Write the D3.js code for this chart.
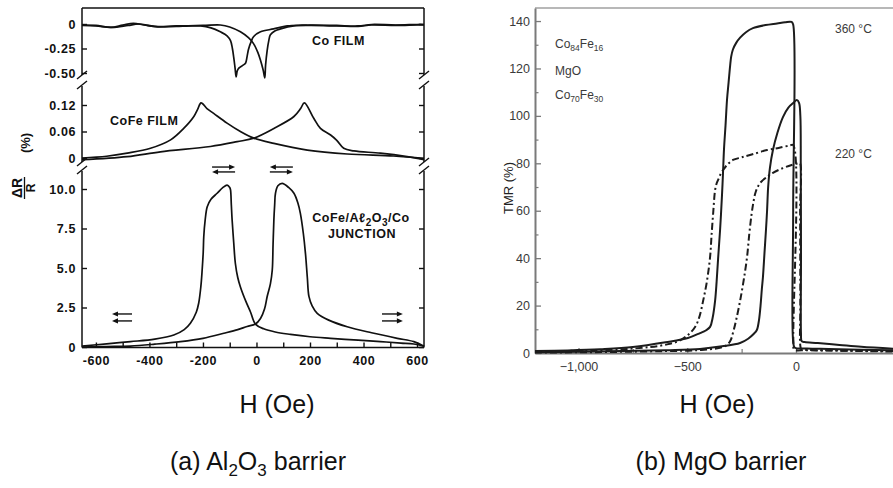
<!DOCTYPE html>
<html>
<head>
<meta charset="utf-8">
<script src="https://cdn.jsdelivr.net/npm/d3@7"></script>
<style>
  body { margin: 0; background: #fff; }
  svg { display: block; font-family: "Liberation Sans", Arial, sans-serif; }
</style>
</head>
<body>
<svg id="chart"></svg>
<script>
// ---------- panel (a) data : [H (Oe), dR/R (%)] ----------
const hTicksA = [-600, -400, -200, 0, 200, 400, 600];
const coTicks = [0, -0.25, -0.5];
const coTickLabels = ["0", "-0.25", "-0.50"];
const cofeTicks = [0, 0.06, 0.12];
const cofeTickLabels = ["0", "0.06", "0.12"];
const juncTicks = [0, 2.5, 5, 7.5, 10];
const juncTickLabels = ["0", "2.5", "5.0", "7.5", "10.0"];

const coFilmA = [[-652,-0.01],[-600,-0.015],[-545,-0.035],[-500,-0.012],[-460,0.007],[-420,-0.01],[-370,-0.03],[-300,-0.025],[-240,-0.02],[-209,-0.02],[-170,-0.04],[-135,-0.08],[-110,-0.12],[-97,-0.17],[-90,-0.25],[-85,-0.34],[-80,-0.45],[-76,-0.54],[-72,-0.48],[-66,-0.45],[-50,-0.42],[-41,-0.40],[-35,-0.33],[-30,-0.26],[-20,-0.18],[-11,-0.13],[15,-0.08],[64,-0.05],[115,-0.02],[170,-0.012],[210,-0.01],[300,-0.015],[380,-0.02],[430,-0.005],[520,-0.01],[600,-0.005],[626,-0.005]];
const coFilmB = [[-652,-0.015],[-600,-0.02],[-540,-0.035],[-480,-0.015],[-440,0.0],[-380,-0.025],[-300,-0.02],[-200,-0.015],[-135,-0.01],[-100,-0.03],[-60,-0.08],[-30,-0.14],[-11,-0.2],[5,-0.29],[15,-0.37],[25,-0.47],[31,-0.55],[34,-0.42],[40,-0.27],[46,-0.17],[52,-0.11],[70,-0.07],[90,-0.05],[140,-0.02],[200,-0.015],[300,-0.02],[380,-0.025],[430,-0.01],[520,-0.015],[600,-0.01],[626,-0.01]];

const cofeFilmA = [[-652,0.0],[-560,0.004],[-483,0.011],[-396,0.022],[-321,0.041],[-272,0.067],[-234,0.094],[-220,0.11],[-207,0.125],[-185,0.112],[-160,0.101],[-110,0.079],[-60,0.060],[-10,0.045],[65,0.033],[190,0.018],[339,0.009],[512,0.0045],[626,-0.001]];
const cofeFilmB = [[-652,-0.004],[-483,0.003],[-359,0.014],[-172,0.026],[-72,0.037],[-10,0.045],[65,0.067],[140,0.094],[165,0.112],[179,0.125],[214,0.090],[239,0.067],[277,0.052],[300,0.04],[326,0.022],[364,0.016],[463,0.011],[563,0.003],[626,-0.004]];

const junctionA = [[-652,0.06],[-560,0.2],[-471,0.34],[-380,0.5],[-309,0.76],[-270,1.1],[-247,1.5],[-225,2.2],[-216,2.77],[-208,3.8],[-203,4.87],[-199,6.0],[-197,6.98],[-192,8.0],[-184,8.88],[-170,9.35],[-147,9.73],[-125,10.1],[-110,10.25],[-100,10.1],[-97,9.94],[-94,9.0],[-91,8.04],[-85,6.6],[-79,5.3],[-70,4.4],[-60,3.8],[-40,2.9],[-22,2.2],[-4,1.45],[27,1.15],[70,0.95],[127,0.8],[200,0.65],[277,0.55],[380,0.43],[463,0.34],[540,0.25],[588,0.19],[626,0.05]];
const junctionB = [[-652,0.0],[-560,0.03],[-471,0.06],[-380,0.18],[-284,0.34],[-200,0.55],[-122,0.87],[-70,1.1],[-35,1.3],[-4,1.45],[15,1.8],[30,2.4],[40,3.2],[52,4.0],[59,4.87],[62,6.5],[65,8.04],[68,9.0],[71,9.73],[80,10.2],[96,10.36],[120,10.1],[140,9.73],[155,9.1],[164,8.46],[175,7.2],[183,5.93],[190,4.4],[196,3.2],[208,2.6],[227,2.13],[270,1.7],[339,1.28],[430,0.9],[526,0.55],[588,0.34],[626,0.05]];

// field-direction arrows: [from H, to H, level on junction scale]
const arrowsA = [[-166,-80,11.39],[-80,-166,11.08],[136,50,11.39],[50,136,11.08],
                 [-465,-540,2.09],[-465,-540,1.65],[469,547,2.09],[469,547,1.65]];

// ---------- panel (b) data : [H (Oe), TMR (%)] ----------
const tmrTicks = [0, 20, 40, 60, 80, 100, 120, 140];
const tmrMinorTicks = [10, 30, 50, 70, 90, 110, 130];
const hTicksB = [-1000, -500, 0];
const hMinorTicksB = [-750, -250];

const tmr360Major = [[446,1.2],[300,1.4],[150,1.7],[50,1.9],[-5,2.2],[-12,4],[-13,60],[-13,138.5],[-20,139.6],[-50,139.5],[-87,139],[-140,138.3],[-198,137],[-230,135.3],[-257,133],[-275,130.8],[-290,128],[-298,125],[-303,121],[-310,114],[-317,107],[-324,96],[-331,86],[-336,75],[-340,67],[-349,52],[-358,40],[-365,30],[-372,22],[-383,15],[-395,11],[-415,9.5],[-441,8.4],[-497,6.3],[-600,4.5],[-750,2.5],[-900,1.6],[-1050,1.1],[-1200,0.8]];
const tmr360Minor = [[-1200,0.3],[-1000,0.5],[-800,0.8],[-600,1.2],[-441,1.7],[-340,2.8],[-257,4.2],[-220,6],[-195,8],[-180,9.7],[-170,14],[-163,20],[-157,27],[-152,32],[-145,42],[-138,52],[-133,60],[-128,70],[-120,78],[-106,85.6],[-85,93],[-60,99.5],[-35,103.5],[-12,105.5],[4,106.7],[14,105.5],[20,100],[22,80],[23,40],[23,8],[26,5],[40,4.6],[100,4.2],[200,3.4],[300,2.6],[446,1.8]];
const tmr220Major = [[446,0.8],[200,1.0],[50,1.2],[-8,1.5],[-12,5],[-13,87.7],[-30,87.5],[-80,86.5],[-133,85.6],[-200,83.8],[-250,82.5],[-290,81.4],[-320,79],[-336,77],[-349,75],[-358,73],[-365,71.5],[-372,68.7],[-380,60],[-388,50],[-395,40.5],[-410,30],[-427,22],[-445,15],[-464,11],[-497,7.6],[-540,5],[-600,3.5],[-671,2.5],[-800,1.6],[-1000,1],[-1200,0.5]];
const tmr220Minor = [[-1200,0.2],[-1000,0.3],[-800,0.5],[-600,0.8],[-450,1.2],[-350,2.2],[-317,3.4],[-300,5.5],[-290,8.4],[-275,14],[-257,22],[-240,31],[-225,40.5],[-215,50],[-205,58],[-195,64],[-185,68],[-165,71.7],[-130,74.5],[-106,76],[-60,78],[-20,79.3],[10,80],[18,80],[19,60],[20,20],[20,3],[25,1.5],[60,1.3],[200,1.0],[446,0.6]];

const width = 893;
const height = 488;

const svg = d3.select('#chart')
    .attr('width', width)
    .attr('height', height);

svg.append("rect").attr("width", width).attr("height", height).attr("fill", "#fff");

function renderLeftPanel() {
    const ink = "#111";
    const x = d3.scaleLinear().domain([-652, 626]).range([82, 424]);
    const yCo = d3.scaleLinear().domain([0, -0.5]).range([24, 73]);
    const yCofe = d3.scaleLinear().domain([0, 0.12]).range([158, 105]);
    const yJunc = d3.scaleLinear().domain([0, 10]).range([347, 189]);

    const g = svg.append("g");

    // axis frame (broken between the three panels)
    const segments = [[8, 75], [86, 162], [171, 347.5]];
    [x.range()[0], x.range()[1]].forEach(function(px) {
        segments.forEach(function(s) {
            g.append("line")
                .attr("x1", px).attr("x2", px)
                .attr("y1", s[0]).attr("y2", s[1])
                .attr("stroke", ink).attr("stroke-width", 1.5);
        });
        // break marks
        [75, 85, 162, 170].forEach(function(by) {
            g.append("line")
                .attr("x1", px - 5).attr("y1", by + 4)
                .attr("x2", px + 5).attr("y2", by - 4)
                .attr("stroke", ink).attr("stroke-width", 1.4);
        });
    });
    g.append("line")
        .attr("x1", 82).attr("x2", 424).attr("y1", 8).attr("y2", 8)
        .attr("stroke", ink).attr("stroke-width", 1.5);
    g.append("line")
        .attr("x1", 82).attr("x2", 424).attr("y1", 347.5).attr("y2", 347.5)
        .attr("stroke", ink).attr("stroke-width", 1.5);

    function yAxes(scale, ticks, labels) {
        const left = g.append("g")
            .attr("transform", "translate(82,0)")
            .call(d3.axisLeft(scale).tickValues(ticks).tickSize(-5).tickSizeOuter(0).tickPadding(6)
                .tickFormat((d, i) => labels[i]));
        const right = g.append("g")
            .attr("transform", "translate(424,0)")
            .call(d3.axisRight(scale).tickValues(ticks).tickSize(-5).tickSizeOuter(0).tickFormat(""));
        [left, right].forEach(function(a) {
            a.select(".domain").remove();
            a.selectAll("line").attr("stroke", ink).attr("stroke-width", 1.4);
        });
        left.selectAll("text")
            .attr("fill", ink)
            .style("font-size", "12.5px")
            .style("font-weight", "bold")
            .style("letter-spacing", "0.6px");
    }
    yAxes(yCo, coTicks, coTickLabels);
    yAxes(yCofe, cofeTicks, cofeTickLabels);
    yAxes(yJunc, juncTicks, juncTickLabels);

    const xAxis = g.append("g")
        .attr("transform", "translate(0,347.5)")
        .call(d3.axisBottom(x).tickValues(d3.range(-600, 601, 100)).tickSize(-5).tickSizeOuter(0).tickPadding(9)
            .tickFormat(d => hTicksA.includes(d) ? String(d) : ""));
    xAxis.select(".domain").remove();
    xAxis.selectAll("line").attr("stroke", ink).attr("stroke-width", 1.4);
    xAxis.selectAll("text")
        .attr("fill", ink)
        .style("font-size", "12.5px")
        .style("font-weight", "bold")
        .style("letter-spacing", "0.6px");

    // curves
    function drawCurve(data, yScale) {
        const line = d3.line()
            .x(d => x(d[0]))
            .y(d => yScale(d[1]))
            .curve(d3.curveCatmullRom.alpha(0.5));
        g.append("path")
            .datum(data)
            .attr("d", line)
            .attr("fill", "none")
            .attr("stroke", ink)
            .attr("stroke-width", 1.7)
            .attr("stroke-linejoin", "round");
    }
    drawCurve(coFilmA, yCo);
    drawCurve(coFilmB, yCo);
    drawCurve(cofeFilmA, yCofe);
    drawCurve(cofeFilmB, yCofe);
    drawCurve(junctionA, yJunc);
    drawCurve(junctionB, yJunc);

    // arrows
    arrowsA.forEach(function(a) {
        const x0 = x(a[0]), x1 = x(a[1]), yy = yJunc(a[2]);
        const dir = x1 > x0 ? 1 : -1;
        g.append("line")
            .attr("x1", x0).attr("x2", x1 - dir * 3)
            .attr("y1", yy).attr("y2", yy)
            .attr("stroke", ink).attr("stroke-width", 1.4);
        g.append("path")
            .attr("d", "M" + x1 + "," + yy + "L" + (x1 - dir * 6) + "," + (yy - 2.6) + "L" + (x1 - dir * 6) + "," + (yy + 2.6) + "Z")
            .attr("fill", ink);
    });

    // annotations
    const lab = g.append("g")
        .attr("fill", ink)
        .style("font-size", "12.5px")
        .style("font-weight", "bold")
        .style("letter-spacing", "0.5px");
    lab.append("text").attr("x", 312).attr("y", 45).text("Co FILM");
    lab.append("text").attr("x", 110).attr("y", 125).text("CoFe FILM");
    const jt = lab.append("text").attr("x", 361).attr("y", 222).attr("text-anchor", "middle");
    jt.append("tspan").text("CoFe/Aℓ");
    jt.append("tspan").attr("dy", 4).style("font-size", "10px").text("2");
    jt.append("tspan").attr("dy", -4).text("O");
    jt.append("tspan").attr("dy", 4).style("font-size", "10px").text("3");
    jt.append("tspan").attr("dy", -4).text("/Co");
    lab.append("text").attr("x", 362).attr("y", 238).attr("text-anchor", "middle").text("JUNCTION");

    // y label: dR/R (%)
    svg.append("text")
        .attr("transform", "translate(17,188) rotate(-90)")
        .attr("dy", "0.35em")
        .attr("text-anchor", "middle")
        .style("font-size", "14px").style("font-weight", "bold")
        .attr("fill", ink)
        .text("ΔR");
    svg.append("line")
        .attr("x1", 24.5).attr("x2", 24.5).attr("y1", 177).attr("y2", 199)
        .attr("stroke", ink).attr("stroke-width", 1.3);
    svg.append("text")
        .attr("transform", "translate(31,188) rotate(-90)")
        .attr("dy", "0.35em")
        .attr("text-anchor", "middle")
        .style("font-size", "12px").style("font-weight", "bold")
        .attr("fill", ink)
        .text("R");
    svg.append("text")
        .attr("transform", "translate(25,143) rotate(-90)")
        .attr("dy", "0.35em")
        .attr("text-anchor", "middle")
        .style("font-size", "13px").style("font-weight", "bold")
        .attr("fill", ink)
        .text("(%)");
}

function renderRightPanel() {
    const axisColor = "#7a7a7a";
    const textColor = "#3a3a3a";
    const curveColor = "#1c1c1c";
    const x = d3.scaleLinear().domain([-1200, 446]).range([535, 893]);
    const y = d3.scaleLinear().domain([0, 145.5]).range([353, 8]);

    const g = svg.append("g");

    // frame
    g.append("line").attr("x1", 535).attr("x2", 893).attr("y1", 8).attr("y2", 8)
        .attr("stroke", "#a0a0a0").attr("stroke-width", 1.5);

    const yAxis = g.append("g")
        .attr("transform", "translate(535,0)")
        .call(d3.axisLeft(y).tickValues(tmrTicks).tickSize(-6).tickSizeOuter(0).tickPadding(5));
    g.append("g")
        .attr("transform", "translate(535,0)")
        .call(d3.axisLeft(y).tickValues(tmrMinorTicks).tickSize(-3.5).tickSizeOuter(0).tickFormat(""))
        .call(a => a.select(".domain").remove())
        .selectAll("line").attr("stroke", axisColor).attr("stroke-width", 1.2);

    const xAxis = g.append("g")
        .attr("transform", "translate(0,353)")
        .call(d3.axisBottom(x).tickValues(hTicksB).tickSize(-5).tickSizeOuter(0).tickPadding(9)
            .tickFormat(d3.format(",")));
    g.append("g")
        .attr("transform", "translate(0,353)")
        .call(d3.axisBottom(x).tickValues(hMinorTicksB).tickSize(-4).tickSizeOuter(0).tickFormat(""))
        .call(a => a.select(".domain").remove())
        .selectAll("line").attr("stroke", axisColor).attr("stroke-width", 1.2);

    [yAxis, xAxis].forEach(function(a) {
        a.select(".domain").attr("stroke", axisColor).attr("stroke-width", 2);
        a.selectAll(".tick line").attr("stroke", axisColor).attr("stroke-width", 1.3);
        a.selectAll("text")
            .attr("fill", textColor)
            .style("font-size", "12.5px");
    });

    // curves
    const line = d3.line()
        .x(d => x(d[0]))
        .y(d => y(d[1]))
        .curve(d3.curveCatmullRom.alpha(0.5));

    const curves = [
        { data: tmr220Major, dash: "7,3,2,3" },
        { data: tmr220Minor, dash: "7,3,2,3" },
        { data: tmr360Major, dash: null },
        { data: tmr360Minor, dash: null }
    ];
    g.selectAll(".tmr")
        .data(curves)
        .enter()
        .append("path")
        .attr("class", "tmr")
        .attr("d", d => line(d.data))
        .attr("fill", "none")
        .attr("stroke", curveColor)
        .attr("stroke-width", 2)
        .attr("stroke-dasharray", d => d.dash)
        .attr("stroke-linejoin", "round");

    // labels
    const lab = g.append("g").attr("fill", textColor).style("font-size", "12px");
    function subText(xp, yp, parts) {
        const t = lab.append("text").attr("x", xp).attr("y", yp);
        parts.forEach(function(p, i) {
            t.append("tspan")
                .attr("dy", i === 0 ? 0 : (p[1] ? 3 : -3))
                .style("font-size", p[1] ? "8.5px" : "12px")
                .text(p[0]);
        });
    }
    subText(555, 48, [["Co", false], ["84", true], ["Fe", false], ["16", true]]);
    lab.append("text").attr("x", 555).attr("y", 75).text("MgO");
    subText(555, 99, [["Co", false], ["70", true], ["Fe", false], ["30", true]]);
    lab.append("text").attr("x", 835).attr("y", 33).text("360 °C");
    lab.append("text").attr("x", 835).attr("y", 158).text("220 °C");

    svg.append("text")
        .attr("transform", "translate(508,188) rotate(-90)")
        .attr("dy", "0.35em")
        .attr("text-anchor", "middle")
        .attr("fill", "#222")
        .style("font-size", "13px")
        .text("TMR (%)");
}

renderLeftPanel();
renderRightPanel();

// shared captions
const cap = svg.append("g").attr("fill", "#111").style("font-size", "25px").attr("text-anchor", "middle");
cap.append("text").attr("x", 277).attr("y", 413).text("H (Oe)");
cap.append("text").attr("x", 717).attr("y", 413).text("H (Oe)");
const capA = cap.append("text").attr("x", 258).attr("y", 470);
capA.append("tspan").text("(a) Al");
capA.append("tspan").attr("dy", 6).style("font-size", "17px").text("2");
capA.append("tspan").attr("dy", -6).text("O");
capA.append("tspan").attr("dy", 6).style("font-size", "17px").text("3");
capA.append("tspan").attr("dy", -6).text(" barrier");
cap.append("text").attr("x", 721).attr("y", 470).text("(b) MgO barrier");
</script>
</body>
</html>
